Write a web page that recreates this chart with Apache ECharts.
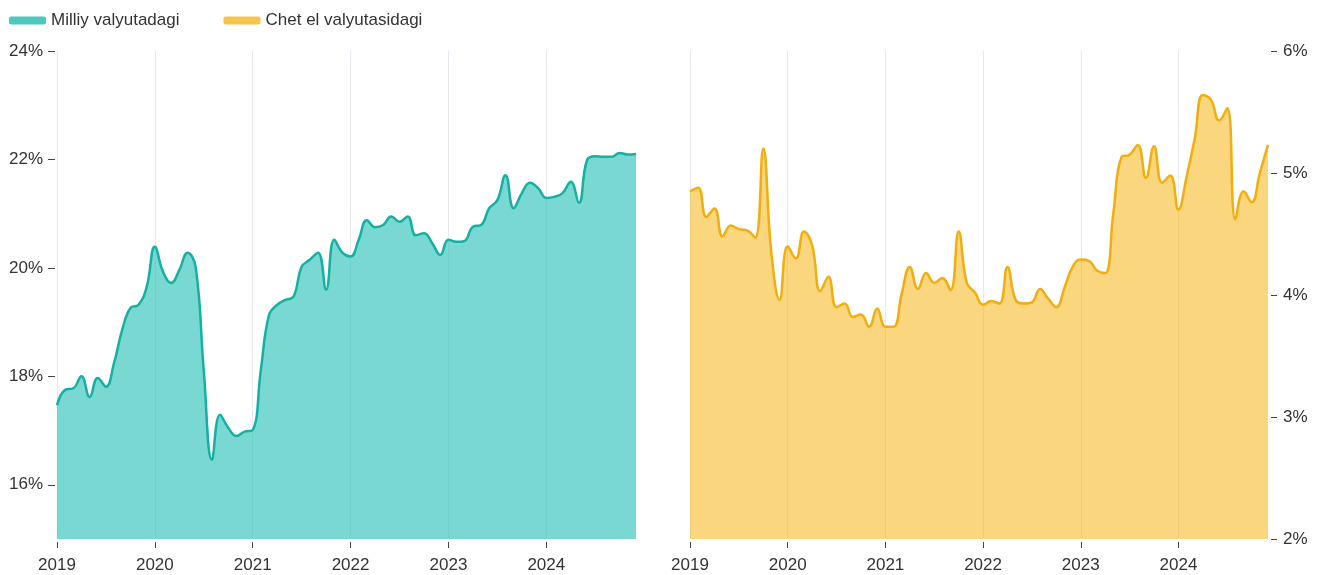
<!DOCTYPE html>
<html>
<head>
<meta charset="utf-8">
<script src="https://cdn.jsdelivr.net/npm/echarts@6/dist/echarts.min.js"></script>
<style>
    html, body { margin: 0; padding: 0; background: #fff; }
    #chart { width: 1324px; height: 575px; }
</style>
</head>
<body>
<div id="chart"></div>
<script>
// monthly categories, Jan 2019 .. Dec 2024
const years = ['2019', '2020', '2021', '2022', '2023', '2024'];
const months = [];
years.forEach(y => {
    for (let m = 1; m <= 12; m++) months.push(`${y}-${String(m).padStart(2, '0')}`);
});

// share in national currency, %
const milliy = [
    17.47, 17.75, 17.78, 18.0, 17.62, 17.97, 17.81, 18.25, 18.86, 19.26, 19.32, 19.65,
    20.39, 19.93, 19.72, 19.96, 20.28, 20.02, 18.1, 16.46, 17.29, 17.05, 16.9, 16.98,
    17.01, 18.12, 19.13, 19.32, 19.41, 19.47, 20.02, 20.15, 20.28, 19.6, 20.52, 20.28,
    20.21, 20.52, 20.88, 20.75, 20.79, 20.95, 20.85, 20.95, 20.6, 20.64, 20.46, 20.24,
    20.52, 20.48, 20.5, 20.76, 20.79, 21.1, 21.25, 21.71, 21.1, 21.38, 21.57, 21.47,
    21.29, 21.31, 21.38, 21.59, 21.2, 21.99, 22.06, 22.05, 22.05, 22.12, 22.09, 22.1
];

// share in foreign currency, %
const chetEl = [
    4.85, 4.88, 4.64, 4.71, 4.48, 4.57, 4.54, 4.53, 4.47, 5.2, 4.34, 3.96,
    4.4, 4.3, 4.52, 4.41, 4.03, 4.15, 3.9, 3.93, 3.82, 3.84, 3.74, 3.89,
    3.74, 3.74, 4.01, 4.23, 4.05, 4.18, 4.1, 4.14, 4.04, 4.52, 4.1, 4.02,
    3.92, 3.95, 3.93, 4.23, 3.96, 3.93, 3.94, 4.05, 3.97, 3.9, 4.06, 4.23,
    4.29, 4.28, 4.2, 4.18, 4.67, 5.13, 5.15, 5.23, 4.96, 5.22, 4.92, 4.98,
    4.7, 4.97, 5.28, 5.64, 5.6, 5.43, 5.53, 4.62, 4.85, 4.76, 5.0, 5.23
];

const leftTicks = [16, 18, 20, 22, 24];

const FONT = '"Liberation Sans", Arial, sans-serif';
const TEXT = '#333';
const TICK = '#444';
const yearStart = i => i % 12 === 0;

function xAxis(gridIndex) {
    return {
        type: 'category',
        gridIndex,
        data: months,
        boundaryGap: false,
        offset: 3,
        axisLine: { show: false },
        axisTick: { show: true, interval: yearStart, length: 6, lineStyle: { color: TICK } },
        axisLabel: {
            interval: yearStart,
            formatter: v => v.slice(0, 4),
            margin: 15,
            color: TEXT,
            fontFamily: FONT,
            fontSize: 17
        },
        splitLine: { show: true, interval: yearStart, lineStyle: { color: '#e6eaf0', width: 1 } }
    };
}

const chart = echarts.init(document.getElementById('chart'));

chart.setOption({
    animation: false,
    textStyle: { fontFamily: FONT },
    legend: {
        left: 4,
        top: 7,
        icon: 'roundRect',
        itemWidth: 37,
        itemHeight: 8,
        itemGap: 44,
        itemStyle: { borderWidth: 0 },
        textStyle: { color: TEXT, fontSize: 17, fontFamily: FONT },
        data: [
            { name: 'Milliy valyutadagi', itemStyle: { color: '#4cc8be' } },
            { name: 'Chet el valyutasidagi', itemStyle: { color: '#f7c44a' } }
        ]
    },
    grid: [
        { left: 57, top: 51, width: 579, height: 488 },
        { left: 690, top: 51, width: 578, height: 488 }
    ],
    xAxis: [xAxis(0), xAxis(1)],
    yAxis: [
        {
            type: 'value',
            gridIndex: 0,
            min: 15,
            max: 24,
            offset: 2,
            axisLine: { show: false },
            axisTick: { show: true, length: 7, customValues: leftTicks, lineStyle: { color: TICK } },
            axisLabel: {
                customValues: leftTicks,
                formatter: '{value}%',
                margin: 12,
                color: TEXT,
                fontFamily: FONT,
                fontSize: 17
            },
            splitLine: { show: false }
        },
        {
            type: 'value',
            gridIndex: 1,
            position: 'right',
            min: 2,
            max: 6,
            interval: 1,
            offset: 3,
            axisLine: { show: false },
            axisTick: { show: true, length: 6, lineStyle: { color: TICK } },
            axisLabel: {
                formatter: '{value}%',
                margin: 12,
                color: TEXT,
                fontFamily: FONT,
                fontSize: 17
            },
            splitLine: { show: false }
        }
    ],
    series: [
        {
            name: 'Milliy valyutadagi',
            type: 'line',
            xAxisIndex: 0,
            yAxisIndex: 0,
            data: milliy,
            smooth: 0.45,
            showSymbol: false,
            lineStyle: { color: '#14b0a3', width: 2.5 },
            itemStyle: { color: '#14b0a3' },
            areaStyle: { color: 'rgba(24,190,178,0.58)', opacity: 1 }
        },
        {
            name: 'Chet el valyutasidagi',
            type: 'line',
            xAxisIndex: 1,
            yAxisIndex: 1,
            data: chetEl,
            smooth: 0.45,
            showSymbol: false,
            lineStyle: { color: '#f2ad0e', width: 2.5 },
            itemStyle: { color: '#f2ad0e' },
            areaStyle: { color: 'rgba(245,180,20,0.55)', opacity: 1 }
        }
    ]
});
</script>
</body>
</html>
